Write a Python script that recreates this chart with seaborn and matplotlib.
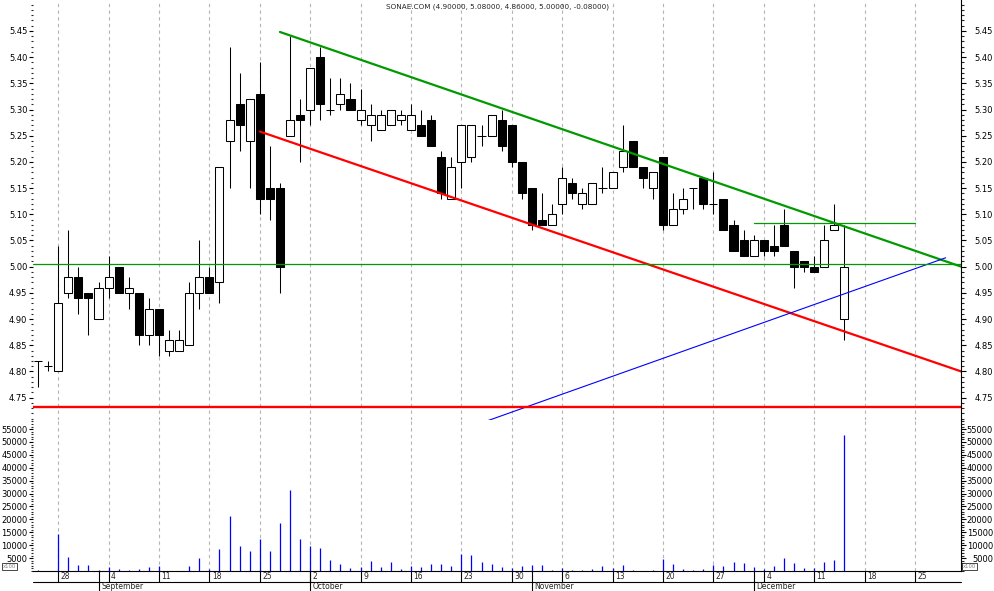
import numpy as np
import pandas as pd
import matplotlib
matplotlib.use("Agg")
import matplotlib.pyplot as plt
import matplotlib.transforms as mtransforms
from matplotlib.ticker import MultipleLocator
import seaborn as sns


# dados (SONAE.COM, diário)
dates = pd.bdate_range("2006-08-24", "2006-12-14")
opens = [4.82, 4.81, 4.80, 4.95, 4.98, 4.95, 4.90, 4.96, 5.00, 4.95,
         4.95, 4.87, 4.92, 4.84, 4.84, 4.85, 4.95, 4.98, 4.97, 5.24,
         5.31, 5.24, 5.33, 5.15, 5.15, 5.25, 5.29, 5.30, 5.40, 5.30,
         5.31, 5.32, 5.28, 5.27, 5.26, 5.27, 5.28, 5.26, 5.27, 5.28,
         5.21, 5.13, 5.20, 5.21, 5.25, 5.25, 5.28, 5.27, 5.20, 5.15,
         5.09, 5.08, 5.12, 5.16, 5.12, 5.12, 5.15, 5.15, 5.19, 5.24,
         5.19, 5.15, 5.21, 5.08, 5.11, 5.15, 5.17, 5.12, 5.13, 5.08,
         5.05, 5.02, 5.05, 5.04, 5.08, 5.03, 5.01, 5.00, 5.00, 5.07,
         4.90]
highs = [4.82, 4.82, 5.04, 5.07, 5.00, 4.95, 4.97, 5.02, 5.00, 4.98,
         4.95, 4.94, 4.92, 4.88, 4.88, 4.97, 5.05, 5.00, 5.19, 5.42,
         5.37, 5.32, 5.39, 5.23, 5.16, 5.44, 5.32, 5.38, 5.42, 5.36,
         5.36, 5.35, 5.34, 5.31, 5.30, 5.30, 5.30, 5.31, 5.30, 5.29,
         5.22, 5.21, 5.27, 5.27, 5.27, 5.29, 5.30, 5.27, 5.20, 5.15,
         5.14, 5.12, 5.19, 5.17, 5.15, 5.16, 5.19, 5.18, 5.27, 5.24,
         5.19, 5.18, 5.21, 5.14, 5.15, 5.15, 5.17, 5.18, 5.13, 5.09,
         5.07, 5.06, 5.05, 5.08, 5.11, 5.03, 5.01, 5.02, 5.08, 5.12,
         5.08]
lows = [4.77, 4.80, 4.80, 4.94, 4.91, 4.87, 4.90, 4.94, 4.95, 4.92,
        4.85, 4.85, 4.83, 4.83, 4.84, 4.85, 4.92, 4.95, 4.93, 5.15,
        5.22, 5.15, 5.10, 5.09, 4.95, 5.25, 5.20, 5.27, 5.28, 5.29,
        5.30, 5.30, 5.27, 5.24, 5.26, 5.27, 5.27, 5.26, 5.25, 5.23,
        5.13, 5.13, 5.15, 5.20, 5.23, 5.25, 5.22, 5.19, 5.13, 5.07,
        5.08, 5.08, 5.10, 5.13, 5.11, 5.12, 5.14, 5.15, 5.18, 5.19,
        5.15, 5.13, 5.07, 5.08, 5.10, 5.11, 5.11, 5.10, 5.07, 5.03,
        5.02, 5.02, 5.02, 5.02, 5.04, 4.96, 4.99, 4.99, 5.00, 5.07,
        4.86]
closes = [4.82, 4.81, 4.93, 4.98, 4.94, 4.94, 4.96, 4.98, 4.95, 4.96,
          4.87, 4.92, 4.87, 4.86, 4.86, 4.95, 4.98, 4.95, 5.19, 5.28,
          5.27, 5.32, 5.13, 5.13, 5.00, 5.28, 5.28, 5.38, 5.31, 5.30,
          5.33, 5.30, 5.30, 5.29, 5.29, 5.30, 5.29, 5.29, 5.25, 5.23,
          5.14, 5.19, 5.27, 5.27, 5.25, 5.29, 5.23, 5.20, 5.14, 5.08,
          5.08, 5.10, 5.17, 5.14, 5.14, 5.16, 5.15, 5.18, 5.22, 5.19,
          5.17, 5.18, 5.08, 5.11, 5.13, 5.15, 5.12, 5.12, 5.07, 5.03,
          5.02, 5.05, 5.03, 5.03, 5.04, 5.00, 5.00, 4.99, 5.05, 5.08,
          5.00]
volume = [300, 0, 14500, 5500, 2300, 2300, 400, 1700, 800, 400,
          800, 1700, 2000, 0, 0, 2000, 5000, 800, 8500, 21300,
          9700, 7700, 12400, 7700, 18600, 31400, 12400, 9700, 8900, 4300,
          2700, 1200, 1700, 3900, 1500, 3500, 800, 2000, 1500, 2700,
          2700, 2000, 6600, 6200, 3500, 2700, 1500, 1200, 2000, 2300,
          2300, 400, 1200, 400, 400, 800, 2000, 1200, 2300, 400,
          0, 400, 4600, 2700, 800, 400, 800, 2300, 2000, 3500,
          3100, 1500, 800, 2000, 5000, 3100, 1200, 1200, 3500, 4300,
          52700]

# linhas de tendência (índice do dia, preço)
green_trend_x = [24, 91.6]
green_trend_y = [5.448, 5.00]
red_trend_x = [22, 91.6]
red_trend_y = [5.258, 4.80]
blue_trend_x = [44.6, 90.05]
blue_trend_y = [4.706, 5.017]
resist_x = [71, 87]
resist_y = [5.083, 5.083]
green_level = 5.005
red_level = 4.733

title = "SONAE.COM (4.90000, 5.08000, 4.86000, 5.00000, -0.08000)"


sns.set_style("white")
plt.rcParams['font.family'] = ['DejaVu Sans']

W, H = 994, 591
fig = plt.figure(figsize=(W / 100, H / 100), dpi=100)
ax_p = fig.add_axes([33 / W, 1 - 420 / H, 928 / W, 420 / H])
ax_v = fig.add_axes([33 / W, 1 - 571 / H, 928 / W, 151 / H], sharex=ax_p)

x = np.arange(len(dates))
o, h, l, c = map(np.array, (opens, highs, lows, closes))
xmin, xmax = -0.5, 91.57

# velas
ax_p.vlines(x, l, h, color="black", lw=0.75, zorder=3)
body_col = np.where(c >= o, "white", "black")
ax_p.bar(x, np.abs(c - o), bottom=np.minimum(o, c), width=0.8,
         color=body_col, edgecolor="black", linewidth=0.75, zorder=4)

# tendências e níveis
sns.lineplot(x=green_trend_x, y=green_trend_y, ax=ax_p, color="#009a00", lw=1.6, zorder=5)
sns.lineplot(x=red_trend_x, y=red_trend_y, ax=ax_p, color="#ff0000", lw=1.6, zorder=5)
sns.lineplot(x=blue_trend_x, y=blue_trend_y, ax=ax_p, color="#0000ff", lw=0.8, zorder=5)
sns.lineplot(x=resist_x, y=resist_y, ax=ax_p, color="#009a00", lw=0.9, zorder=5)
ax_p.axhline(green_level, color="#009a00", lw=0.9, zorder=5)
ax_p.axhline(red_level, color="#ff0000", lw=1.7, zorder=5)

# volume
ax_v.vlines(x, 0, volume, color="#0000ff", lw=0.9, zorder=3)

# grelha semanal (segundas)
all_days = pd.bdate_range("2006-08-24", "2006-12-29")
mondays = [i for i, d in enumerate(all_days) if d.weekday() == 0]
for ax in (ax_p, ax_v):
    for i in mondays:
        ax.axvline(i, color="#b4b4b4", lw=0.8, ls=(0, (3, 3)), zorder=1)

ax_p.set_xlim(xmin, xmax)
ax_p.set_ylim(4.7074, 5.509)
ax_v.set_ylim(0, 58527)

price_ticks = np.round(np.arange(4.75, 5.451, 0.05), 2)
vol_ticks = np.arange(5000, 55001, 5000)

for ax, ticks, fmt, minor in ((ax_p, price_ticks, "{:.2f}", 0.01),
                              (ax_v, vol_ticks, "{:d}", 1000)):
    ax.set_yticks(ticks)
    ax.set_yticklabels([fmt.format(t) for t in ticks], fontsize=6)
    ax.yaxis.set_minor_locator(MultipleLocator(minor))
    ax.tick_params(axis="y", which="major", direction="out", length=3, width=0.8, pad=1, colors="black")
    ax.tick_params(axis="y", which="minor", direction="out", length=1.5, width=0.8)
    ax.tick_params(axis="x", bottom=False, labelbottom=False)
    for s in ("left", "top"):
        ax.spines[s].set_visible(False)
    ax.spines["right"].set_visible(False)

    axr = ax.twinx()
    axr.set_ylim(ax.get_ylim())
    axr.set_yticks(ticks)
    axr.set_yticklabels([fmt.format(t) for t in ticks], fontsize=6, ha="right")
    axr.yaxis.set_minor_locator(MultipleLocator(minor))
    axr.tick_params(axis="y", which="major", direction="out", length=3.5, width=0.8, pad=19.5, colors="black")
    axr.tick_params(axis="y", which="minor", direction="out", length=1.8, width=0.8)
    for s in ("left", "top", "bottom"):
        axr.spines[s].set_visible(False)
    axr.spines["right"].set_color("black")
    axr.spines["right"].set_linewidth(0.8)

ax_p.spines["bottom"].set_visible(False)
ax_v.spines["bottom"].set_color("black")
ax_v.spines["bottom"].set_linewidth(0.8)

# eixo de datas em duas linhas
trans = mtransforms.blended_transform_factory(ax_v.transData, ax_v.transAxes)
row1 = -11 / 151
row2 = -20 / 151
ax_v.plot([0, 1], [row1, row1], transform=ax_v.transAxes, color="black", lw=0.8, clip_on=False)
for i in mondays:
    ax_v.plot([i, i], [0, row1], transform=trans, color="black", lw=0.8, clip_on=False)
    ax_v.text(i + 0.25, row1 / 2, str(all_days[i].day), transform=trans,
              fontsize=5.5, ha="left", va="center")
for i in range(1, len(all_days)):
    if all_days[i].month != all_days[i - 1].month:
        ax_v.plot([i, i], [0, row2], transform=trans, color="black", lw=0.8, clip_on=False)
        ax_v.text(i + 0.25, (row1 + row2) / 2, all_days[i].strftime("%B"), transform=trans,
                  fontsize=5.5, ha="left", va="center")

# caixinhas x100
for xx in (3, 963):
    fig.text(xx / W, 1 - 566.5 / H, "x100", fontsize=3.8, color="#808080", ha="left", va="center",
             bbox=dict(boxstyle="square,pad=0.15", fc="white", ec="black", lw=0.5))

fig.text(497 / W, 1 - 7 / H, title, fontsize=5.2, ha="center", va="center")

fig.savefig("out.png", dpi=100)
